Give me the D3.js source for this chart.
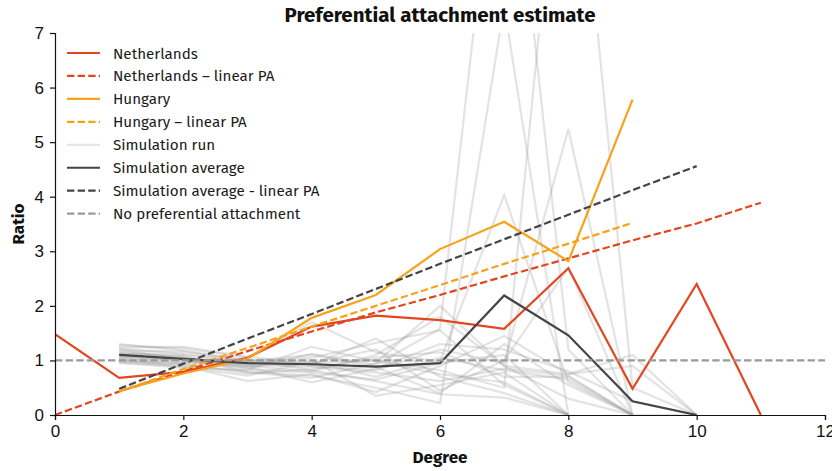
<!DOCTYPE html>
<html>
<head>
<meta charset="utf-8">
<script src="https://cdn.jsdelivr.net/npm/d3@7"></script>
<style>
  body { margin: 0; background: #fff; }
  svg { font-family: "Fira Sans", "Noto Sans", sans-serif; }
  .axis text { font-size: 17px; fill: #111; }
  .axis path, .axis line { stroke: #111; stroke-width: 1.2; }
</style>
</head>
<body>
<div id="chart"></div>
<script>
w = 832;
h = 471;
margin = {top: 33, right: 7, bottom: 56, left: 55};

// Netherlands, degree 0..11
netherlands = [1.48, 0.68, 0.79, 1.05, 1.62, 1.82, 1.74, 1.58, 2.69, 0.48, 2.40, 0];
netherlandsPA = [0, 0.43, 0.80, 1.17, 1.53, 1.88, 2.20, 2.54, 2.87, 3.20, 3.51, 3.89];

// Hungary, degree 1..9
hungary = [0.44, 0.76, 1.03, 1.78, 2.20, 3.04, 3.54, 2.82, 5.78];
hungaryPA = [0.43, 0.84, 1.23, 1.62, 2.00, 2.38, 2.77, 3.14, 3.52];

// simulation average, degree 1..10
simAverage = [1.10, 1.03, 0.95, 0.93, 0.885, 0.95, 2.19, 1.46, 0.25, 0];
simAveragePA = [0.48, 0.94, 1.40, 1.85, 2.31, 2.77, 3.22, 3.67, 4.12, 4.56];

// single simulation runs, degree 1..n
simRuns = [
  [1.08, 1.02, 0.92, 0.88, 0.78, 0.62, 0.85, 0.72, 0, 0],
  [1.22, 1.12, 0.98, 1.05, 1.32, 1.55, 0.55, 0],
  [0.98, 0.95, 1.02, 0.82, 0.62, 0.38, 0.32, 0],
  [1.15, 1.06, 0.86, 1.12, 0.92, 1.58, 12.0, 1.2, 0],
  [1.00, 0.92, 0.80, 0.72, 0.50, 0.22, 7.5, 0],
  [1.10, 1.05, 0.90, 0.95, 1.00, 0.82, 0.50, 12.5, 0.5, 0],
  [1.28, 1.22, 1.05, 1.70, 1.15, 0.98, 4.03, 0.6, 0],
  [1.05, 1.00, 0.96, 0.90, 0.82, 1.20, 0.95, 5.24, 0],
  [1.12, 1.08, 0.78, 0.68, 0.95, 2.00, 0.90, 0.3, 0],
  [0.95, 0.90, 0.62, 0.75, 0.42, 0.90, 1.45, 0.75, 1.1, 0],
  [1.18, 1.16, 1.00, 0.95, 1.20, 0.45, 1.00, 2.7, 0],
  [1.02, 0.88, 0.72, 0.98, 0.70, 1.05, 0.82, 0.65, 0],
  [1.24, 1.25, 1.07, 0.92, 1.40, 0.70, 0.40, 0],
  [1.06, 0.97, 0.88, 0.60, 0.85, 1.30, 1.20, 0.8, 0.25, 0],
  [1.14, 1.10, 0.94, 1.00, 0.35, 0.55, 0.78, 0],
  [0.97, 0.86, 0.82, 1.25, 0.98, 0.75, 0.60, 0],
  [1.20, 1.02, 0.90, 0.80, 1.10, 1.80, 0.90, 0.75, 0.9, 0],
  [1.10, 1.00, 0.84, 0.78, 0.65, 0.95, 1.10, 0],
  [1.30, 1.18, 0.99, 1.10, 0.88, 0.40, 1.30, 0.55, 0],
  [1.03, 0.94, 0.76, 0.84, 1.05, 1.15, 0.70, 0.7, 0]
];

noPA = [1, 1];
noPADegrees = [0, 12];

xTicks = [0, 2, 4, 6, 8, 10, 12];
yTicks = [0, 1, 2, 3, 4, 5, 6, 7];

colors = {nl: '#e2461f', hu: '#f7a21b', avg: '#444444', run: '#999999', none: '#9a9a9a'};
dash = '7.4,3.2';

var svg = d3.select('#chart').append('svg')
  .attr('width', w)
  .attr('height', h);

xScale = d3.scaleLinear().domain([0, 12]).range([margin.left, w - margin.right]);
yScale = d3.scaleLinear().domain([0, 7]).range([h - margin.bottom, margin.top]);

svg.append('defs').append('clipPath').attr('id', 'plotclip')
  .append('rect')
  .attr('x', margin.left).attr('y', margin.top)
  .attr('width', w - margin.left - margin.right)
  .attr('height', h - margin.top - margin.bottom);

// pair up degrees and values, starting at a given degree
function pts(values, start) {
  return values.map(function(v, i) { return [start + i, v]; });
}

var line = d3.line()
  .x(function(d) { return xScale(d[0]); })
  .y(function(d) { return yScale(d[1]); });

var plot = svg.append('g').attr('clip-path', 'url(#plotclip)');

// simulation runs in the back
plot.selectAll('.run').data(simRuns).enter()
  .append('path')
  .attr('class', 'run')
  .attr('d', function(d) { return line(pts(d, 1)); })
  .attr('fill', 'none')
  .attr('stroke', colors.run)
  .attr('stroke-opacity', 0.27)
  .attr('stroke-width', 2.2);

series = [
  {label: 'Netherlands', data: pts(netherlands, 0), color: colors.nl, dash: null},
  {label: 'Netherlands \u2013 linear PA', data: pts(netherlandsPA, 0), color: colors.nl, dash: dash},
  {label: 'Hungary', data: pts(hungary, 1), color: colors.hu, dash: null},
  {label: 'Hungary \u2013 linear PA', data: pts(hungaryPA, 1), color: colors.hu, dash: dash},
  {label: 'Simulation run', data: null, color: colors.run, dash: null, opacity: 0.25},
  {label: 'Simulation average', data: pts(simAverage, 1), color: colors.avg, dash: null},
  {label: 'Simulation average - linear PA', data: pts(simAveragePA, 1), color: colors.avg, dash: dash},
  {label: 'No preferential attachment', data: noPADegrees.map(function(x, i) { return [x, noPA[i]]; }), color: colors.none, dash: dash}
];

series.forEach(function(s) {
  if (!s.data) return;
  plot.append('path')
    .attr('d', line(s.data))
    .attr('fill', 'none')
    .attr('stroke', s.color)
    .attr('stroke-width', 2.2)
    .attr('stroke-dasharray', s.dash);
});

// axes
svg.append('g')
  .attr('class', 'axis')
  .attr('transform', 'translate(0,' + (h - margin.bottom) + ')')
  .call(d3.axisBottom(xScale).tickValues(xTicks).tickFormat(d3.format('d'))
    .tickSizeOuter(0).tickSize(5).tickPadding(5));

svg.append('g')
  .attr('class', 'axis')
  .attr('transform', 'translate(' + margin.left + ',0)')
  .call(d3.axisLeft(yScale).tickValues(yTicks).tickFormat(d3.format('d'))
    .tickSizeOuter(0).tickSize(5).tickPadding(6));

// labels
svg.append('text')
  .attr('x', (margin.left + w - margin.right) / 2)
  .attr('y', 22)
  .attr('text-anchor', 'middle')
  .style('font-size', '20.5px')
  .style('font-weight', 'bold')
  .style('fill', '#111')
  .text('Preferential attachment estimate');

svg.append('text')
  .attr('x', (margin.left + w - margin.right) / 2)
  .attr('y', 463)
  .attr('text-anchor', 'middle')
  .style('font-size', '17px')
  .style('font-weight', 'bold')
  .style('fill', '#111')
  .text('Degree');

svg.append('text')
  .attr('transform', 'translate(24,' + ((margin.top + h - margin.bottom) / 2) + ') rotate(-90)')
  .attr('text-anchor', 'middle')
  .style('font-size', '17px')
  .style('font-weight', 'bold')
  .style('fill', '#111')
  .text('Ratio');

// legend
var legend = svg.append('g').attr('transform', 'translate(67,53)');
var item = legend.selectAll('g').data(series).enter()
  .append('g')
  .attr('transform', function(d, i) { return 'translate(0,' + (i * 22.95) + ')'; });

item.append('line')
  .attr('x1', 0).attr('x2', 33)
  .attr('stroke', function(d) { return d.color; })
  .attr('stroke-opacity', function(d) { return d.opacity || 1; })
  .attr('stroke-width', 2.2)
  .attr('stroke-dasharray', function(d) { return d.dash; });

item.append('text')
  .attr('x', 46)
  .attr('y', 5.5)
  .style('font-size', '15.2px')
  .style('fill', '#1a1a1a')
  .text(function(d) { return d.label; });
</script>
</body>
</html>
